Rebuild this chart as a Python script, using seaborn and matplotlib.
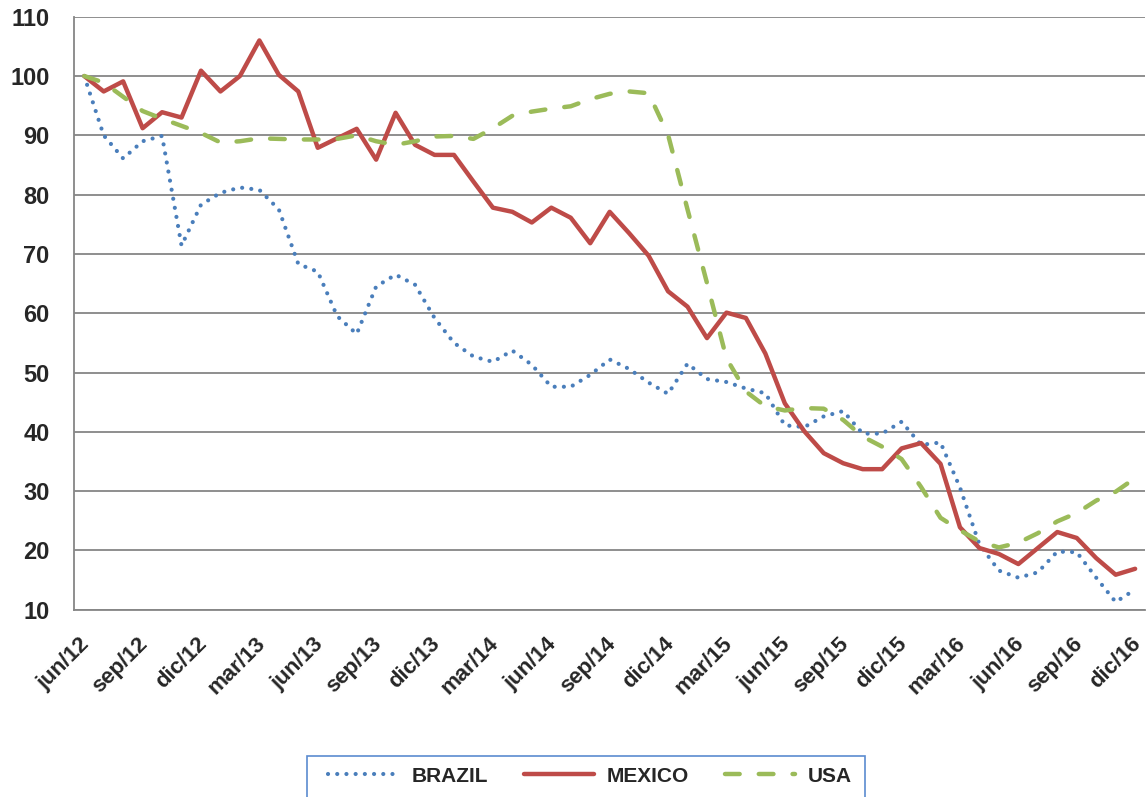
import numpy as np
import pandas as pd
import matplotlib
matplotlib.use("Agg")
import matplotlib.pyplot as plt
import matplotlib.transforms as mtransforms
import seaborn as sns
from matplotlib.patches import Rectangle

# meses jun/12 .. dic/16
meses_es = ["ene", "feb", "mar", "abr", "may", "jun", "jul", "ago", "sep", "oct", "nov", "dic"]
meses = []
for k in range(55):
    m = (5 + k) % 12
    a = 12 + (5 + k) // 12
    meses.append(f"{meses_es[m]}/{a}")

brazil = [100, 90.0, 86.1, 89.0, 89.9, 71.4, 78.3, 80.3, 81.2, 80.8,
          77.5, 68.3, 67.0, 59.5, 56.5, 64.5, 66.5, 64.8, 59.2, 55.0,
          52.7, 51.8, 53.7, 51.3, 47.6, 47.6, 49.6, 52.2, 50.6, 48.3,
          46.4, 51.5, 48.9, 48.4, 47.3, 46.5, 41.1, 40.8, 42.6, 43.5,
          39.7, 39.7, 41.7, 37.8, 38.2, 30.6, 21.0, 16.6, 15.4, 16.3,
          19.8, 19.7, 15.4, 11.3, 13.4]
mexico = [100, 97.4, 99.1, 91.2, 93.9, 93.0, 100.9, 97.4, 100.0, 106.0,
          100.2, 97.4, 87.9, 89.5, 91.1, 85.9, 93.8, 88.4, 86.7, 86.7,
          82.2, 77.8, 77.1, 75.3, 77.8, 76.1, 71.8, 77.1, 73.5, 69.7,
          63.7, 61.1, 55.8, 60.1, 59.2, 53.2, 44.8, 40.1, 36.4, 34.7,
          33.7, 33.7, 37.2, 38.1, 34.6, 23.9, 20.4, 19.4, 17.7, 20.4,
          23.1, 22.1, 18.7, 15.9, 16.9]
usa = [100, 98.9, 96.5, 94.1, 92.8, 91.6, 90.4, 88.8, 89.0, 89.5,
       89.4, 89.3, 89.3, 89.4, 90.0, 89.0, 88.4, 89.0, 89.8, 89.9,
       89.4, 91.2, 93.3, 94.0, 94.5, 94.9, 96.1, 97.0, 97.4, 97.1,
       90.1, 77.5, 65.1, 52.4, 46.8, 44.3, 43.6, 44.0, 43.9, 42.0,
       39.2, 37.5, 35.4, 30.7, 25.5, 23.4, 21.5, 20.5, 21.3, 22.9,
       24.9, 26.3, 28.4, 29.9, 32.2]

paises = ["BRAZIL", "MEXICO", "USA"]
idx = np.arange(len(meses))
df = pd.concat([
    pd.DataFrame({"idx": idx, "mes": meses, "valor": v, "pais": p})
    for p, v in zip(paises, [brazil, mexico, usa])
])

sns.set_style("white")
plt.rcParams["font.family"] = ["Liberation Sans", "DejaVu Sans"]

colores = {"BRAZIL": "#4a7ebb", "MEXICO": "#be4b48", "USA": "#9bbb59"}
guiones = {"BRAZIL": (0.01, 2.2), "MEXICO": "", "USA": (3.3, 4.3)}
grosor = {"BRAZIL": 3.0, "MEXICO": 3.2, "USA": 3.2}

fig, ax = plt.subplots(figsize=(11.46, 7.97), dpi=100)
fig.subplots_adjust(left=0.065, right=0.999, top=0.979, bottom=0.235)

sns.lineplot(data=df, x="idx", y="valor", hue="pais", style="pais",
             hue_order=paises, style_order=paises, palette=colores,
             dashes=guiones, legend=False, ax=ax)
for linea, p in zip(ax.lines, paises):
    linea.set_linewidth(grosor[p])
    linea.set_dash_capstyle("round")
    linea.set_solid_capstyle("round")

ax.set_xlim(-0.5, len(meses) - 0.5)
ax.set_ylim(10, 110)
ax.set_yticks(range(10, 111, 10))
ax.set_xticks(idx[::3])
ax.set_xticklabels(meses[::3], rotation=45, ha="right", rotation_mode="anchor")
ax.set_xticks(np.arange(-0.5, len(meses), 1), minor=True)
ax.set_xlabel("")
ax.set_ylabel("")

ax.grid(axis="y", color="#868686", lw=1.3)
ax.grid(axis="x", visible=False)
ax.set_axisbelow(True)
sns.despine(ax=ax)
for s in ["left", "bottom"]:
    ax.spines[s].set_color("#868686")
    ax.spines[s].set_linewidth(1.3)

ax.tick_params(axis="x", which="major", length=0, pad=17, labelsize=16)
ax.tick_params(axis="x", which="minor", length=6, width=1.2, color="#868686", direction="out")
ax.tick_params(axis="y", length=7, width=1.2, color="#868686", direction="out", pad=11, labelsize=17)
desplaza = mtransforms.ScaledTranslation(-5 / 100, 0, fig.dpi_scale_trans)
for t in ax.get_xticklabels():
    t.set_fontweight("bold")
    t.set_transform(t.get_transform() + desplaza)
for t in ax.get_yticklabels():
    t.set_fontweight("bold")

fig.legend(ax.lines, paises, loc="center", bbox_to_anchor=(0.515, 0.026),
           ncol=3, frameon=False, prop={"weight": "bold", "size": 15},
           handlelength=3.4, handletextpad=0.6, columnspacing=1.7)
fig.patches.append(Rectangle((307 / 1146, -0.02), (865 - 307) / 1146, 0.02 + 41 / 797,
                             transform=fig.transFigure, fill=False,
                             edgecolor="#5b8bd0", lw=1.2))

fig.savefig("out.png", dpi=100)
